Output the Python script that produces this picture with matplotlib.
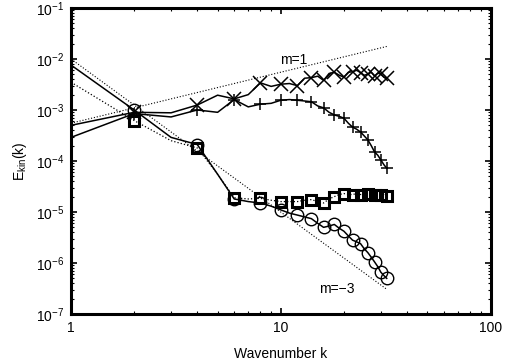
import matplotlib
matplotlib.use("Agg")
import matplotlib.pyplot as plt
import numpy as np

plt.rcParams['font.family'] = ['Liberation Sans', 'DejaVu Sans']
plt.rcParams['mathtext.fontset'] = 'custom'
plt.rcParams['mathtext.rm'] = 'Liberation Sans'
plt.rcParams['mathtext.it'] = 'Liberation Sans'

k = list(range(1, 33))

e_cross = [5.0e-4, 9.0e-4, 8.8e-4, 1.25e-3, 1.95e-3, 1.65e-3, 2.0e-3, 3.4e-3,
           2.9e-3, 3.2e-3, 3.3e-3, 3.0e-3, 4.2e-3, 4.3e-3, 4.6e-3, 3.8e-3,
           5.2e-3, 5.5e-3, 4.8e-3, 4.4e-3, 5.5e-3, 5.6e-3, 6.0e-3, 5.4e-3,
           4.8e-3, 5.0e-3, 5.5e-3, 4.6e-3, 5.3e-3, 5.0e-3, 4.4e-3, 4.2e-3]

e_plus = [2.9e-4, 8.5e-4, 7.3e-4, 1.0e-3, 9.0e-4, 1.6e-3, 1.15e-3, 1.3e-3,
          1.35e-3, 1.55e-3, 1.6e-3, 1.55e-3, 1.5e-3, 1.45e-3, 1.2e-3, 1.1e-3,
          9.0e-4, 8.0e-4, 7.5e-4, 6.9e-4, 5.5e-4, 4.6e-4, 4.2e-4, 3.7e-4,
          3.1e-4, 2.6e-4, 2.0e-4, 1.5e-4, 1.3e-4, 1.05e-4, 8.5e-5, 7.2e-5]

e_circle = [7.6e-3, 1.0e-3, 2.9e-4, 2.1e-4, 5.5e-5, 1.8e-5, 1.6e-5, 1.5e-5,
            1.3e-5, 1.1e-5, 9.5e-6, 8.7e-6, 8.0e-6, 7.4e-6, 6.0e-6, 5.0e-6,
            5.3e-6, 5.7e-6, 4.8e-6, 4.2e-6, 3.4e-6, 2.8e-6, 2.6e-6, 2.4e-6,
            1.9e-6, 1.6e-6, 1.3e-6, 1.05e-6, 8.5e-7, 6.6e-7, 5.7e-7, 5.0e-7]

e_square = [3.5e-3, 6.2e-4, 2.5e-4, 1.8e-4, 5.5e-5, 1.9e-5, 1.8e-5, 1.85e-5,
            1.7e-5, 1.6e-5, 1.6e-5, 1.6e-5, 1.7e-5, 1.75e-5, 1.6e-5, 1.5e-5,
            1.8e-5, 2.0e-5, 2.2e-5, 2.3e-5, 2.2e-5, 2.2e-5, 2.3e-5, 2.2e-5,
            2.2e-5, 2.25e-5, 2.2e-5, 2.2e-5, 2.15e-5, 2.2e-5, 2.2e-5, 2.1e-5]

ref_k = [1, 32]
ref_m1_coef = 5.5e-4
ref_m3_coef = 1.0e-2

fig = plt.figure(figsize=(5.07, 3.62), dpi=100)
ax = fig.add_axes([0.140, 0.1326, 0.8275, 0.8454])

kk = np.array(ref_k, dtype=float)
ax.plot(kk, ref_m1_coef * kk, 'k:', lw=0.8)
ax.plot(kk, ref_m3_coef * kk ** -3.0, 'k:', lw=0.8)

me = slice(1, None, 2)
ax.plot(k, e_square, 'k:', lw=0.9, marker='s', ms=7.5, mfc='none', mec='k',
        mew=2.2, markevery=me)
ax.plot(k, e_circle, 'k-', lw=1.1, marker='o', ms=9, mfc='none', mec='k',
        mew=1.0, markevery=me)
ax.plot(k, e_cross, 'k-', lw=1.1, marker='x', ms=10.5, mec='k', mew=1.1,
        markevery=me)
ax.plot(k, e_plus, 'k-', lw=1.1, marker='+', ms=8, mec='k', mew=1.1,
        markevery=me)

ax.set_xscale('log')
ax.set_yscale('log')
ax.set_xlim(1, 100)
ax.set_ylim(1e-7, 1e-1)

ax.text(11.5, 9.5e-3, 'm=1', fontsize=10, ha='center', va='center')
ax.text(18.4, 3.1e-7, 'm=\u22123', fontsize=10, ha='center', va='center')

for s in ax.spines.values():
    s.set_linewidth(2.2)
ax.tick_params(which='both', direction='in', top=True, right=True,
               labelsize=10, pad=5)
ax.tick_params(which='major', length=4, width=1.2)
ax.tick_params(which='minor', length=2, width=0.8)
ax.set_yticks([1e-7, 1e-6, 1e-5, 1e-4, 1e-3, 1e-2, 1e-1])
ax.set_xticks([1, 10, 100])
ax.set_xticklabels(['1', '10', '100'])

ax.set_xlabel('Wavenumber k', fontsize=10, labelpad=9)
ax.set_ylabel('E$_{kin}$(k)', fontsize=10, labelpad=5)

fig.savefig('out.png', dpi=100)
